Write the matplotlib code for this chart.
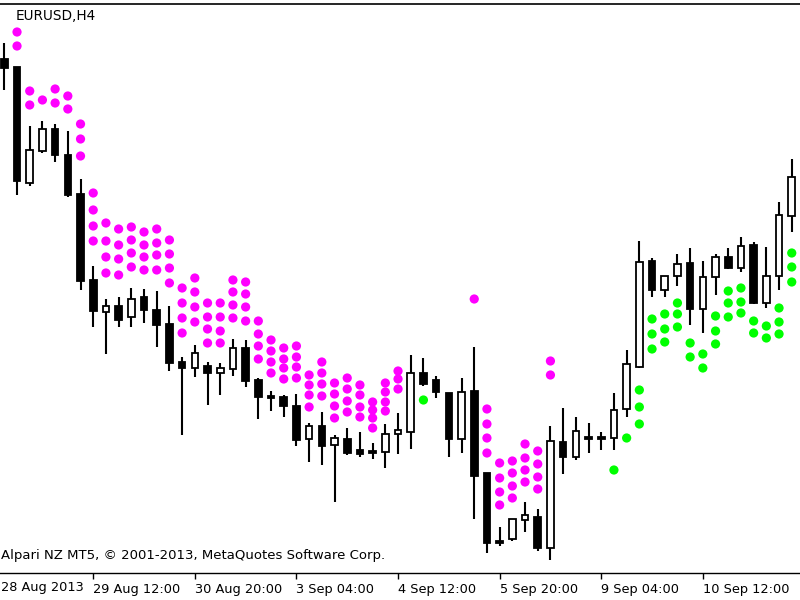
import numpy as np
import matplotlib
matplotlib.use('Agg')
import matplotlib.pyplot as plt
from matplotlib.patches import Rectangle
from matplotlib.transforms import blended_transform_factory

# EURUSD H4 bars, 28 Aug 2013 08:00 onwards
opens = [1.33905, 1.33865, 1.33285, 1.33445, 1.33555, 1.33425, 1.33230, 1.32800, 1.32640, 1.32670,
	1.32615, 1.32715, 1.32650, 1.32580, 1.32390, 1.32360, 1.32370, 1.32335, 1.32355, 1.32460,
	1.32300, 1.32220, 1.32215, 1.32170, 1.32005, 1.32070, 1.31975, 1.32005, 1.31950, 1.31945,
	1.31940, 1.32030, 1.32040, 1.32335, 1.32300, 1.32235, 1.32005, 1.32245, 1.31835, 1.31495,
	1.31505, 1.31600, 1.31615, 1.31460, 1.31990, 1.31915, 1.32015, 1.32015, 1.32010, 1.32155,
	1.32365, 1.32895, 1.32750, 1.32820, 1.32885, 1.32655, 1.32815, 1.32915, 1.32860, 1.32975,
	1.32685, 1.32820, 1.33120]
highs = [1.33985, 1.33865, 1.33570, 1.33595, 1.33580, 1.33545, 1.33305, 1.32870, 1.32705, 1.32715,
	1.32760, 1.32755, 1.32745, 1.32670, 1.32415, 1.32475, 1.32390, 1.32385, 1.32505, 1.32500,
	1.32310, 1.32245, 1.32225, 1.32230, 1.32085, 1.32140, 1.32025, 1.32060, 1.32040, 1.31985,
	1.32080, 1.32135, 1.32425, 1.32410, 1.32320, 1.32235, 1.32310, 1.32465, 1.31835, 1.31565,
	1.31605, 1.31690, 1.31655, 1.32070, 1.32160, 1.32115, 1.32085, 1.32040, 1.32235, 1.32450,
	1.32995, 1.32910, 1.32820, 1.32930, 1.32960, 1.32895, 1.32930, 1.32960, 1.33015, 1.32990,
	1.32965, 1.33190, 1.33405]
lows = [1.33750, 1.33225, 1.33270, 1.33435, 1.33390, 1.33215, 1.32750, 1.32565, 1.32430, 1.32565,
	1.32565, 1.32585, 1.32465, 1.32345, 1.32025, 1.32315, 1.32175, 1.32225, 1.32320, 1.32265,
	1.32105, 1.32145, 1.32115, 1.31970, 1.31890, 1.31875, 1.31690, 1.31925, 1.31915, 1.31905,
	1.31860, 1.31930, 1.31955, 1.32270, 1.32210, 1.31915, 1.31935, 1.31605, 1.31435, 1.31470,
	1.31495, 1.31540, 1.31445, 1.31400, 1.31830, 1.31900, 1.31935, 1.31950, 1.31950, 1.32115,
	1.32360, 1.32715, 1.32715, 1.32770, 1.32575, 1.32535, 1.32725, 1.32855, 1.32840, 1.32680,
	1.32660, 1.32750, 1.33040]
closes = [1.33860, 1.33295, 1.33450, 1.33555, 1.33425, 1.33225, 1.32795, 1.32645, 1.32670, 1.32600,
	1.32705, 1.32650, 1.32575, 1.32385, 1.32360, 1.32435, 1.32335, 1.32360, 1.32460, 1.32295,
	1.32215, 1.32210, 1.32170, 1.32000, 1.32070, 1.31970, 1.32010, 1.31935, 1.31930, 1.31935,
	1.32030, 1.32050, 1.32335, 1.32280, 1.32240, 1.32005, 1.32240, 1.31820, 1.31485, 1.31485,
	1.31605, 1.31625, 1.31460, 1.31995, 1.31915, 1.32045, 1.32005, 1.32005, 1.32150, 1.32380,
	1.32890, 1.32750, 1.32820, 1.32880, 1.32655, 1.32815, 1.32915, 1.32860, 1.32970, 1.32685,
	1.32820, 1.33125, 1.33315]

# indicator dots: bar index -> price levels
sell_dots = {
	1: [1.34040, 1.33970], 2: [1.33745, 1.33675], 3: [1.33700], 4: [1.33755, 1.33685],
	5: [1.33720, 1.33655], 6: [1.33580, 1.33505, 1.33420],
	7: [1.33235, 1.33150, 1.33070, 1.32995], 8: [1.33085, 1.32995, 1.32915, 1.32835],
	9: [1.33055, 1.32975, 1.32905, 1.32825], 10: [1.33065, 1.33000, 1.32935, 1.32865],
	11: [1.33040, 1.32975, 1.32915, 1.32850], 12: [1.33055, 1.32985, 1.32925, 1.32850],
	13: [1.33000, 1.32930, 1.32860, 1.32785], 14: [1.32760, 1.32685, 1.32610, 1.32535],
	15: [1.32810, 1.32740, 1.32665, 1.32590], 16: [1.32685, 1.32615, 1.32555, 1.32485],
	17: [1.32685, 1.32615, 1.32545, 1.32485], 18: [1.32800, 1.32740, 1.32675, 1.32610],
	19: [1.32790, 1.32730, 1.32665, 1.32595], 20: [1.32595, 1.32530, 1.32470, 1.32405],
	21: [1.32500, 1.32445, 1.32390, 1.32335], 22: [1.32460, 1.32405, 1.32360, 1.32305],
	23: [1.32470, 1.32415, 1.32365, 1.32310], 24: [1.32325, 1.32275, 1.32225, 1.32165],
	25: [1.32390, 1.32335, 1.32280, 1.32220], 26: [1.32285, 1.32230, 1.32170, 1.32110],
	27: [1.32310, 1.32255, 1.32195, 1.32140], 28: [1.32275, 1.32225, 1.32165, 1.32115],
	29: [1.32190, 1.32150, 1.32110, 1.32060], 30: [1.32285, 1.32240, 1.32190, 1.32145],
	31: [1.32345, 1.32305, 1.32255], 37: [1.32705],
	38: [1.32155, 1.32080, 1.32010, 1.31935], 39: [1.31885, 1.31810, 1.31740, 1.31675],
	40: [1.31895, 1.31835, 1.31770, 1.31710], 41: [1.31980, 1.31910, 1.31850, 1.31790],
	42: [1.31945, 1.31880, 1.31815, 1.31755], 43: [1.32395, 1.32325],
}
buy_dots = {
	33: [1.32200], 48: [1.31850], 49: [1.32010], 50: [1.32250, 1.32165, 1.32080],
	51: [1.32605, 1.32530, 1.32455], 52: [1.32630, 1.32555, 1.32490],
	53: [1.32685, 1.32630, 1.32565], 54: [1.32485, 1.32415], 55: [1.32430, 1.32360],
	56: [1.32620, 1.32545, 1.32480], 57: [1.32745, 1.32685, 1.32615],
	58: [1.32760, 1.32690, 1.32635], 59: [1.32595, 1.32535], 60: [1.32570, 1.32510],
	61: [1.32660, 1.32590, 1.32530], 62: [1.32935, 1.32865, 1.32790],
}

tick_bars = [7, 15, 23, 31, 39, 47, 55]
tick_labels = ['29 Aug 12:00', '30 Aug 20:00', '3 Sep 04:00', '4 Sep 12:00',
	'5 Sep 20:00', '9 Sep 04:00', '10 Sep 12:00']
first_label = '28 Aug 2013'


def main():
	fig = plt.figure(figsize=(8, 6), dpi=100)
	ax = fig.add_axes([0, 27 / 600, 1, 569 / 600])

	for i in range(len(opens)):
		o, h, l, c = opens[i], highs[i], lows[i], closes[i]
		ax.vlines(i, l, h, color='black', linewidth=1.5, zorder=2)
		bottom = min(o, c)
		height = max(abs(c - o), 0.00002)
		face = 'white' if c > o else 'black'
		ax.add_patch(Rectangle((i - 0.26, bottom), 0.52, height, facecolor=face,
			edgecolor='black', linewidth=1.3, zorder=3))

	for dots, col in ((sell_dots, '#ff00ff'), (buy_dots, '#00ff00')):
		xs = [b for b, v in dots.items() for _ in v]
		ys = [p for v in dots.values() for p in v]
		ax.scatter(xs, ys, s=44, color=col, edgecolors='none', zorder=4)

	ax.set_xlim(-0.34, 62.65)
	ax.set_ylim(1.31335, 1.34180)

	for s in ('left', 'right'):
		ax.spines[s].set_visible(False)
	ax.spines['top'].set_linewidth(1.2)
	ax.spines['bottom'].set_linewidth(1.0)
	ax.set_yticks([])

	ax.set_xticks(tick_bars)
	ax.set_xticklabels(tick_labels, ha='left', fontsize=9.3)
	ax.tick_params(axis='x', length=4, width=1, direction='out', pad=3.5)

	# first date label sits at the left edge of the window
	ax.text(0.001, -0.0138, first_label, transform=ax.transAxes, ha='left', va='top',
		fontsize=9.3, clip_on=False)

	fig.text(16 / 800, 1 - 16 / 600, 'EURUSD,H4', ha='left', va='center', fontsize=9.8)
	fig.text(0.001, 1 - 555 / 600, 'Alpari NZ MT5, \u00a9 2001-2013, MetaQuotes Software Corp.',
		ha='left', va='center', fontsize=9.5)

	fig.savefig('out.png', dpi=100)


if __name__ == "__main__":
	main()
